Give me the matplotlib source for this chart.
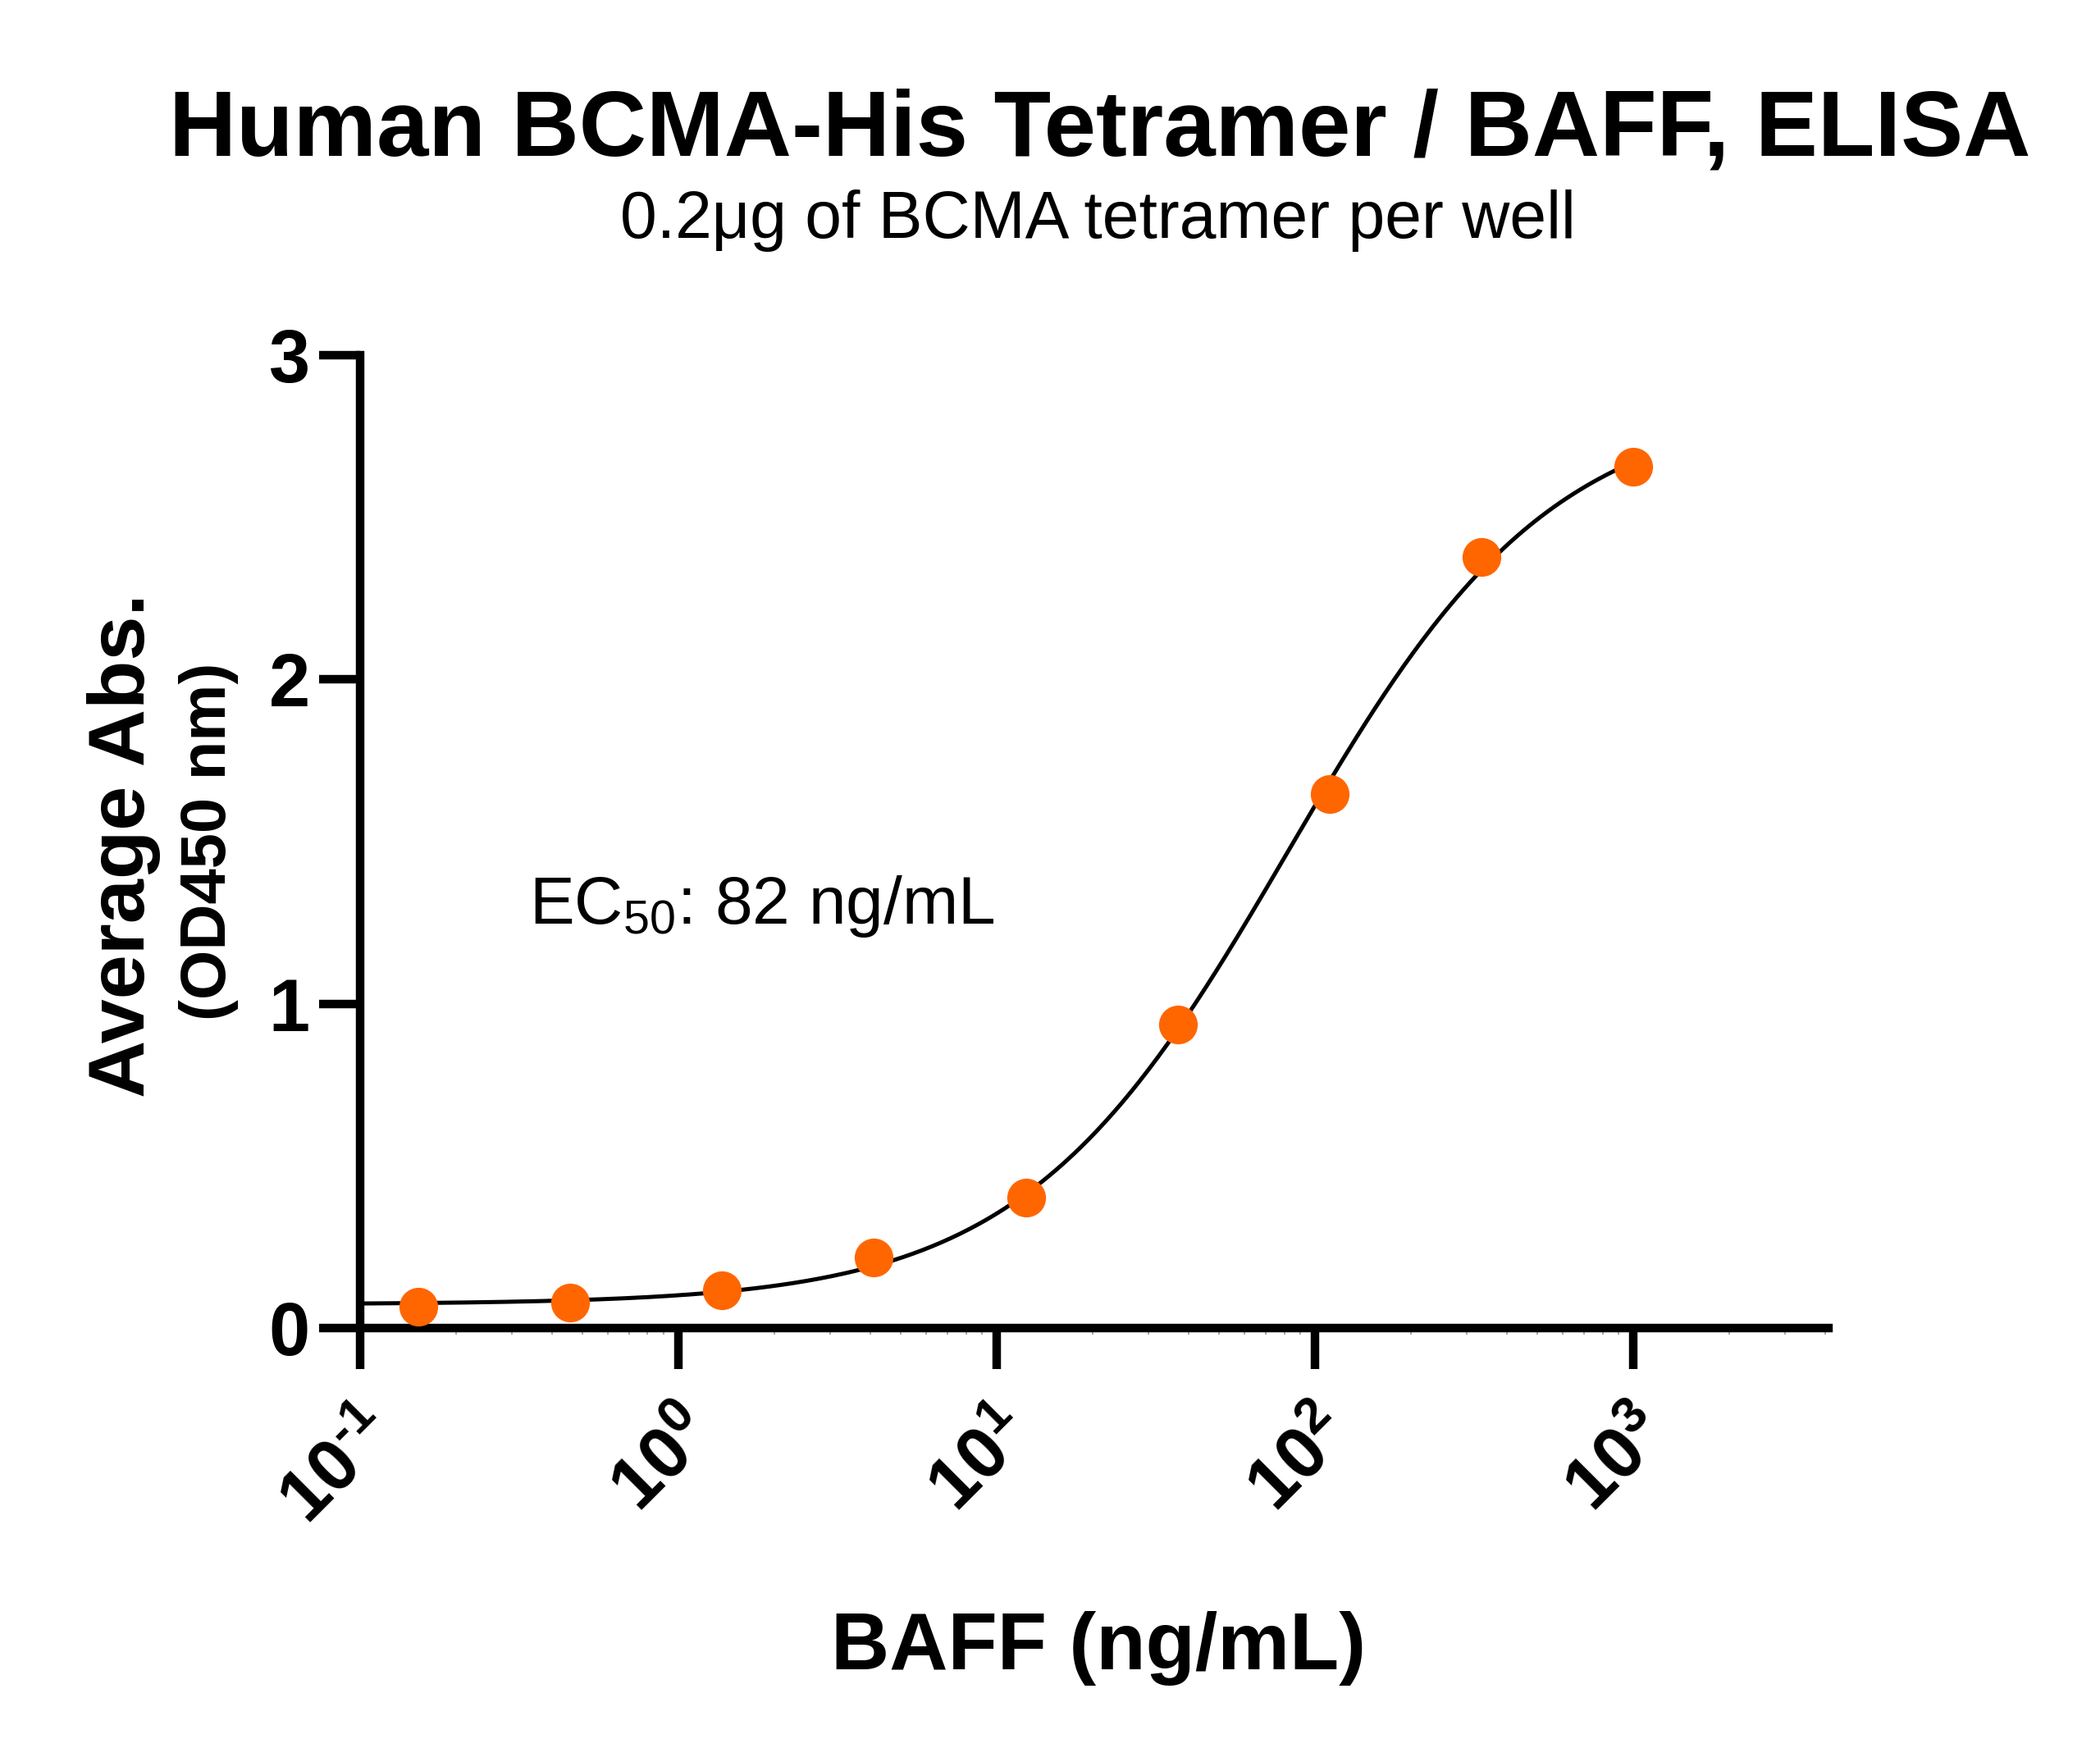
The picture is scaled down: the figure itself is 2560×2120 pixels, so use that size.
import numpy as np
import matplotlib.pyplot as plt
from matplotlib.ticker import LogLocator, NullFormatter

plt.rcParams['font.family'] = ['Liberation Sans', 'DejaVu Sans']
plt.rcParams['mathtext.fontset'] = 'custom'
plt.rcParams['mathtext.rm'] = 'Liberation Sans'
plt.rcParams['mathtext.it'] = 'Liberation Sans:italic'
plt.rcParams['mathtext.bf'] = 'Liberation Sans:bold'

# data (3-fold dilution series of BAFF)
baff_conc = [1000, 333.3, 111.1, 37.04, 12.35, 4.115, 1.372, 0.4572, 0.1524]
avg_abs = [2.656, 2.378, 1.647, 0.936, 0.402, 0.218, 0.116, 0.078, 0.066]
ec50 = 82  # ng/mL, as printed on the chart

x_ticks = [0.1, 1, 10, 100, 1000]
x_tick_labels = ['$\\mathbf{10^{\u20101}}$', r'$\mathbf{10^{0}}$', r'$\mathbf{10^{1}}$',
                 r'$\mathbf{10^{2}}$', r'$\mathbf{10^{3}}$']
y_ticks = [0, 1, 2, 3]
y_tick_labels = ['0', '1', '2', '3']

title = 'Human BCMA-His Tetramer / BAFF, ELISA'
subtitle = '0.2μg of BCMA tetramer per well'
ec50_label = r'EC$_{50}$: 82 ng/mL'
orange = '#FF6600'


def four_pl(x, bottom, top, log_ec50, hill):
    return bottom + (top - bottom) / (1 + 10 ** ((log_ec50 - np.log10(x)) * hill))


def fit_four_pl(x, y, log_ec50):
    # EC50 fixed, grid over hill, bottom & top by linear least squares
    lx = np.log10(np.asarray(x))
    y = np.asarray(y)
    hs = np.arange(0.5, 2.5, 0.002)
    s = 1 / (1 + 10 ** ((log_ec50 - lx[None, :]) * hs[:, None]))
    u = 1 - s
    a = (u * u).sum(-1)
    b = (u * s).sum(-1)
    d = (s * s).sum(-1)
    r1 = (u * y).sum(-1)
    r2 = (s * y).sum(-1)
    det = a * d - b * b
    bot = (d * r1 - b * r2) / det
    top = (a * r2 - b * r1) / det
    pred = bot[:, None] * u + top[:, None] * s
    sse = ((pred - y) ** 2).sum(-1)
    j = np.argmin(sse)
    return bot[j], top[j], log_ec50, hs[j]


params = fit_four_pl(baff_conc, avg_abs, np.log10(ec50))
x_fit = np.logspace(-1, 3, 400)
y_fit = four_pl(x_fit, *params)

fig = plt.figure(figsize=(25.6, 21.2), dpi=100)
ax = fig.add_axes([0.1715, 0.2363, 0.6992, 0.5594])

ax.plot(x_fit, y_fit, color='black', linewidth=3.6, zorder=2)
ax.plot(baff_conc, avg_abs, 'o', color=orange, markersize=34,
        markeredgewidth=0, zorder=3, clip_on=False)

ax.set_xscale('log')
ax.set_xlim(0.1, 4100)
ax.set_ylim(0, 3)

for side in ['top', 'right']:
    ax.spines[side].set_visible(False)
for side in ['left', 'bottom']:
    ax.spines[side].set_linewidth(7.5)

ax.set_yticks(y_ticks, y_tick_labels)
ax.set_xticks(x_ticks, x_tick_labels)
ax.xaxis.set_minor_locator(LogLocator(base=10, subs=np.arange(2, 10)))
ax.xaxis.set_minor_formatter(NullFormatter())
ax.yaxis.set_minor_locator(plt.NullLocator())

ax.tick_params(which='major', length=36, width=7.5)
ax.tick_params(which='minor', axis='x', length=6, width=1.5, color='#aaaaaa')
ax.tick_params(axis='y', pad=8, labelsize=65)
ax.tick_params(axis='x', pad=26, labelsize=64)
for lbl in ax.get_yticklabels():
    lbl.set_fontweight('bold')
for lbl in ax.get_xticklabels():
    lbl.set_rotation(45)
    lbl.set_ha('right')
    lbl.set_va('top')
    lbl.set_rotation_mode('anchor')

fig.text(0.5238, 0.9104, title, fontsize=82, fontweight='bold',
         ha='center', va='baseline')
fig.text(0.5230, 0.8632, subtitle, fontsize=58, ha='center', va='baseline')

fig.text(645 / 2560, 1 - 1126 / 2120, ec50_label, fontsize=59,
         ha='left', va='baseline')

fig.text(176 / 2560, 1 - 1031 / 2120, 'Average Abs.', fontsize=70,
         fontweight='bold', rotation=90, rotation_mode='anchor',
         ha='center', va='baseline')
fig.text(275 / 2560, 1 - 1026 / 2120, '(OD450 nm)', fontsize=56,
         fontweight='bold', rotation=90, rotation_mode='anchor',
         ha='center', va='baseline')
fig.text(1339 / 2560, 1 - 2035 / 2120, 'BAFF (ng/mL)', fontsize=71,
         fontweight='bold', ha='center', va='baseline')

fig.savefig('out.png', dpi=100, facecolor='white')
